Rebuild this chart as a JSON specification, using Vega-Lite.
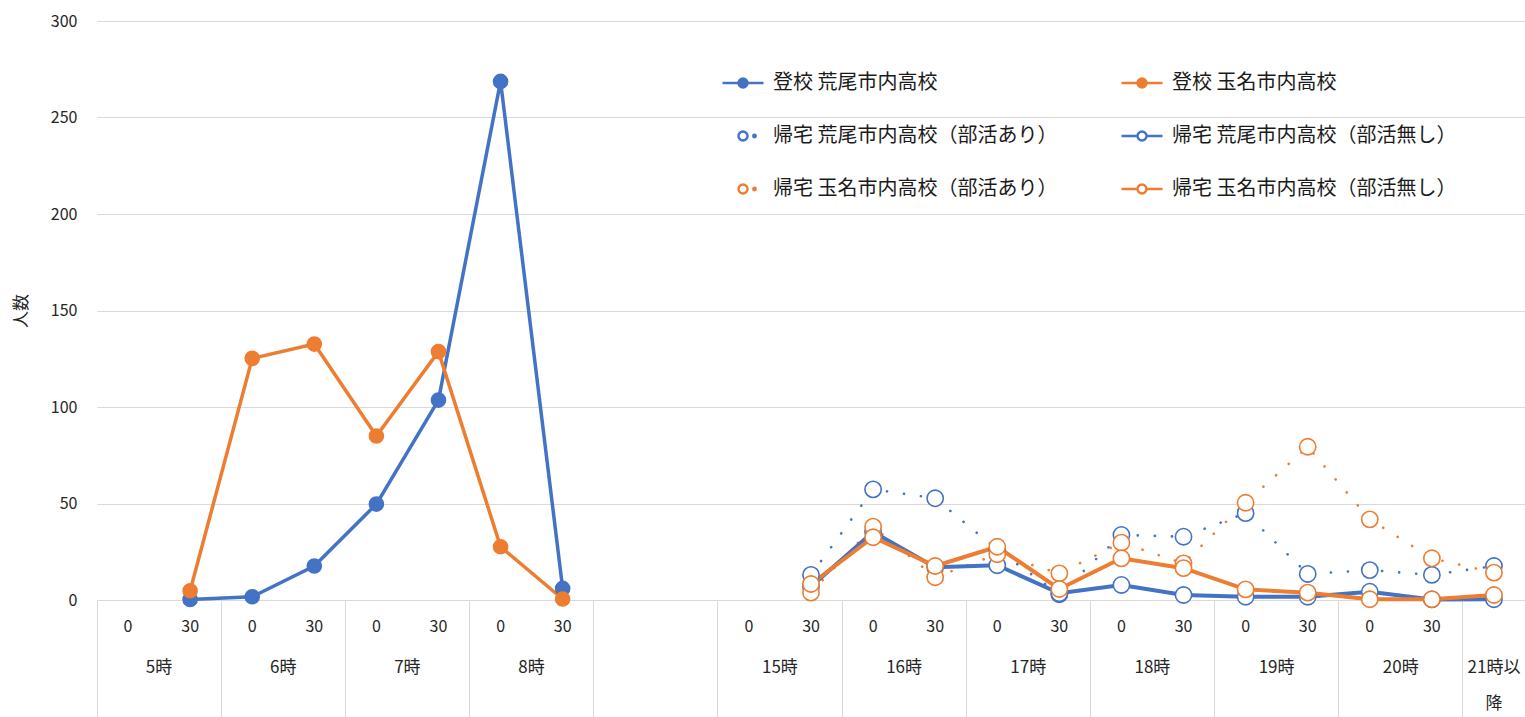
{
  "$schema": "https://vega.github.io/schema/vega-lite/v6.json",
  "width": 1428,
  "height": 579,
  "autosize": {"type": "none"},
  "padding": {"left": 97, "top": 21, "right": 0, "bottom": 117},
  "background": "white",
  "config": {
    "view": {"stroke": null},
    "font": "Noto Sans CJK JP",
    "axis": {"labelFont": "Noto Sans CJK JP", "titleFont": "Noto Sans CJK JP", "labelColor": "#262626", "titleColor": "#262626"}
  },
  "data": {
    "values": [
      {"series": "登校 荒尾市内高校", "slot": "5:30", "value": 0.3},
      {"series": "登校 荒尾市内高校", "slot": "6:00", "value": 1.7},
      {"series": "登校 荒尾市内高校", "slot": "6:30", "value": 17.6},
      {"series": "登校 荒尾市内高校", "slot": "7:00", "value": 49.7},
      {"series": "登校 荒尾市内高校", "slot": "7:30", "value": 103.6},
      {"series": "登校 荒尾市内高校", "slot": "8:00", "value": 268.7},
      {"series": "登校 荒尾市内高校", "slot": "8:30", "value": 6},
      {"series": "登校 玉名市内高校", "slot": "5:30", "value": 4.8},
      {"series": "登校 玉名市内高校", "slot": "6:00", "value": 125.2},
      {"series": "登校 玉名市内高校", "slot": "6:30", "value": 132.6},
      {"series": "登校 玉名市内高校", "slot": "7:00", "value": 85},
      {"series": "登校 玉名市内高校", "slot": "7:30", "value": 128.7},
      {"series": "登校 玉名市内高校", "slot": "8:00", "value": 27.6},
      {"series": "登校 玉名市内高校", "slot": "8:30", "value": 0.5},
      {"series": "帰宅 荒尾市内高校（部活あり）", "slot": "15:30", "value": 13},
      {"series": "帰宅 荒尾市内高校（部活あり）", "slot": "16:00", "value": 57.3},
      {"series": "帰宅 荒尾市内高校（部活あり）", "slot": "16:30", "value": 52.7},
      {"series": "帰宅 荒尾市内高校（部活あり）", "slot": "17:00", "value": 26},
      {"series": "帰宅 荒尾市内高校（部活あり）", "slot": "17:30", "value": 3},
      {"series": "帰宅 荒尾市内高校（部活あり）", "slot": "18:00", "value": 33.7},
      {"series": "帰宅 荒尾市内高校（部活あり）", "slot": "18:30", "value": 32.8},
      {"series": "帰宅 荒尾市内高校（部活あり）", "slot": "19:00", "value": 45},
      {"series": "帰宅 荒尾市内高校（部活あり）", "slot": "19:30", "value": 13.5},
      {"series": "帰宅 荒尾市内高校（部活あり）", "slot": "20:00", "value": 15.5},
      {"series": "帰宅 荒尾市内高校（部活あり）", "slot": "20:30", "value": 13},
      {"series": "帰宅 荒尾市内高校（部活あり）", "slot": "21", "value": 17.6},
      {"series": "帰宅 荒尾市内高校（部活無し）", "slot": "15:30", "value": 7},
      {"series": "帰宅 荒尾市内高校（部活無し）", "slot": "16:00", "value": 35.2},
      {"series": "帰宅 荒尾市内高校（部活無し）", "slot": "16:30", "value": 17},
      {"series": "帰宅 荒尾市内高校（部活無し）", "slot": "17:00", "value": 18},
      {"series": "帰宅 荒尾市内高校（部活無し）", "slot": "17:30", "value": 3.5},
      {"series": "帰宅 荒尾市内高校（部活無し）", "slot": "18:00", "value": 7.8},
      {"series": "帰宅 荒尾市内高校（部活無し）", "slot": "18:30", "value": 2.6},
      {"series": "帰宅 荒尾市内高校（部活無し）", "slot": "19:00", "value": 1.7},
      {"series": "帰宅 荒尾市内高校（部活無し）", "slot": "19:30", "value": 1.7},
      {"series": "帰宅 荒尾市内高校（部活無し）", "slot": "20:00", "value": 4.3},
      {"series": "帰宅 荒尾市内高校（部活無し）", "slot": "20:30", "value": 0.3},
      {"series": "帰宅 荒尾市内高校（部活無し）", "slot": "21", "value": 0.4},
      {"series": "帰宅 玉名市内高校（部活あり）", "slot": "15:30", "value": 3.8},
      {"series": "帰宅 玉名市内高校（部活あり）", "slot": "16:00", "value": 38},
      {"series": "帰宅 玉名市内高校（部活あり）", "slot": "16:30", "value": 11.8},
      {"series": "帰宅 玉名市内高校（部活あり）", "slot": "17:00", "value": 23.7},
      {"series": "帰宅 玉名市内高校（部活あり）", "slot": "17:30", "value": 13.8},
      {"series": "帰宅 玉名市内高校（部活あり）", "slot": "18:00", "value": 29.7},
      {"series": "帰宅 玉名市内高校（部活あり）", "slot": "18:30", "value": 19},
      {"series": "帰宅 玉名市内高校（部活あり）", "slot": "19:00", "value": 50.4},
      {"series": "帰宅 玉名市内高校（部活あり）", "slot": "19:30", "value": 79.4},
      {"series": "帰宅 玉名市内高校（部活あり）", "slot": "20:00", "value": 41.8},
      {"series": "帰宅 玉名市内高校（部活あり）", "slot": "20:30", "value": 21.6},
      {"series": "帰宅 玉名市内高校（部活あり）", "slot": "21", "value": 14.2},
      {"series": "帰宅 玉名市内高校（部活無し）", "slot": "15:30", "value": 8.3},
      {"series": "帰宅 玉名市内高校（部活無し）", "slot": "16:00", "value": 32.5},
      {"series": "帰宅 玉名市内高校（部活無し）", "slot": "16:30", "value": 17.6},
      {"series": "帰宅 玉名市内高校（部活無し）", "slot": "17:00", "value": 27.6},
      {"series": "帰宅 玉名市内高校（部活無し）", "slot": "17:30", "value": 5.7},
      {"series": "帰宅 玉名市内高校（部活無し）", "slot": "18:00", "value": 21.6},
      {"series": "帰宅 玉名市内高校（部活無し）", "slot": "18:30", "value": 16.5},
      {"series": "帰宅 玉名市内高校（部活無し）", "slot": "19:00", "value": 5.5},
      {"series": "帰宅 玉名市内高校（部活無し）", "slot": "19:30", "value": 3.8},
      {"series": "帰宅 玉名市内高校（部活無し）", "slot": "20:00", "value": 0.4},
      {"series": "帰宅 玉名市内高校（部活無し）", "slot": "20:30", "value": 0.4},
      {"series": "帰宅 玉名市内高校（部活無し）", "slot": "21", "value": 2.6}
    ]
  },
  "resolve": {"axis": {"x": "independent"}},
  "encoding": {
    "y": {
      "field": "value", "type": "quantitative",
      "scale": {"domain": [0, 300], "nice": false, "zero": true},
      "axis": {
        "title": "人数", "values": [0, 50, 100, 150, 200, 250, 300],
        "grid": true, "gridColor": "#d9d9d9", "gridWidth": 1,
        "domain": false, "ticks": false,
        "labelFontSize": 16, "labelPadding": 20,
        "titleFontSize": 17, "titleFontWeight": "normal", "titlePadding": 20
      }
    },
    "color": {
      "field": "series", "type": "nominal",
      "scale": {
        "domain": ["登校 荒尾市内高校", "登校 玉名市内高校", "帰宅 荒尾市内高校（部活あり）", "帰宅 荒尾市内高校（部活無し）", "帰宅 玉名市内高校（部活あり）", "帰宅 玉名市内高校（部活無し）"],
        "range": ["#4472C4", "#ED7D31", "#4472C4", "#4472C4", "#ED7D31", "#ED7D31"]
      },
      "legend": {
        "orient": "none", "legendX": 624, "legendY": 40,
        "direction": "horizontal",
        "title": null, "columns": 2, "gridAlign": "all",
        "columnPadding": 58, "rowPadding": 21, "padding": 0,
        "symbolSize": 1681, "symbolStrokeWidth": 2.4, "symbolOpacity": 1,
        "labelFont": "Noto Sans CJK JP", "labelFontSize": 20, "labelColor": "#1a1a1a", "labelOffset": 8, "labelLimit": 400
      }
    }
  },
  "layer": [
    {
      "transform": [{"filter": "indexof(datum.series, '登校') >= 0"}],
      "mark": {"type": "line", "strokeWidth": 3.5},
      "encoding": {
        "x": {
          "field": "slot", "type": "nominal", "sort": null,
          "scale": {"type": "band", "paddingInner": 0, "paddingOuter": 0,
            "domain": ["5:00","5:30","6:00","6:30","7:00","7:30","8:00","8:30","g1","g2","15:00","15:30","16:00","16:30","17:00","17:30","18:00","18:30","19:00","19:30","20:00","20:30","21"]},
          "axis": {
            "orient": "bottom", "title": null, "labelAngle": 0,
            "domain": true, "domainColor": "#d9d9d9", "domainWidth": 1,
            "ticks": false, "grid": false,
            "labelFontSize": 16, "labelPadding": 18,
            "labelExpr": "indexof(datum.value, ':00') > 0 ? '0' : (indexof(datum.value, ':30') > 0 ? '30' : '')"
          }
        }
      }
    },
    {
      "transform": [{"filter": "indexof(datum.series, '登校') >= 0"}],
      "mark": {"type": "point", "filled": false, "size": 200, "strokeWidth": 1.5, "opacity": 1, "fillOpacity": 1},
      "encoding": {
        "x": {
          "field": "slot", "type": "nominal", "sort": null,
          "axis": {
            "orient": "bottom", "title": null, "labels": false,
            "domain": false, "grid": false,
            "ticks": true, "tickSize": 117, "tickColor": "#d9d9d9", "tickWidth": 1, "bandPosition": 0,
            "values": ["5:00","6:00","7:00","8:00","g1","15:00","16:00","17:00","18:00","19:00","20:00","21"]
          }
        },
        "fill": {
          "field": "series", "type": "nominal",
          "scale": {
            "domain": ["登校 荒尾市内高校", "登校 玉名市内高校", "帰宅 荒尾市内高校（部活あり）", "帰宅 荒尾市内高校（部活無し）", "帰宅 玉名市内高校（部活あり）", "帰宅 玉名市内高校（部活無し）"],
            "range": ["#4472C4", "#ED7D31", "#ffffff", "#ffffff", "#ffffff", "#ffffff"]
          }
        }
      }
    },
    {
      "transform": [{"filter": "indexof(datum.series, 'あり') >= 0"}],
      "mark": {"type": "line", "strokeWidth": 2.6, "strokeCap": "round", "strokeDash": [0.1, 17]},
      "encoding": {
        "x": {
          "field": "slot", "type": "nominal", "sort": null,
          "axis": {
            "orient": "bottom", "title": null, "labelAngle": 0,
            "domain": false, "grid": false, "ticks": false,
            "labelFontSize": 17, "labelPadding": 59, "labelOffset": 31,
            "values": ["5:00","6:00","7:00","8:00","15:00","16:00","17:00","18:00","19:00","20:00"],
            "labelExpr": "split(datum.value, ':')[0] + '時'"
          }
        }
      }
    },
    {
      "transform": [{"filter": "indexof(datum.series, '無し') >= 0"}],
      "mark": {"type": "line", "strokeWidth": 4},
      "encoding": {
        "x": {
          "field": "slot", "type": "nominal", "sort": null,
          "axis": {
            "orient": "bottom", "title": null, "labelAngle": 0,
            "domain": false, "grid": false, "ticks": false,
            "labelFontSize": 17, "labelPadding": 59, "labelLineHeight": 36,
            "values": ["21"],
            "labelExpr": "['21時以', '降']"
          }
        }
      }
    },
    {
      "transform": [{"filter": "indexof(datum.series, '帰宅') >= 0"}],
      "mark": {"type": "point", "filled": false, "fillOpacity": 1, "size": 265, "strokeWidth": 1.6, "opacity": 1},
      "encoding": {
        "x": {"field": "slot", "type": "nominal", "sort": null, "axis": null},
        "fill": {"field": "series", "type": "nominal"}
      }
    },
    {
      "mark": {"type": "point", "filled": false, "opacity": 0},
      "encoding": {
        "x": {"field": "slot", "type": "nominal", "sort": null, "axis": null},
        "fill": {"field": "series", "type": "nominal"},
        "shape": {
          "field": "series", "type": "nominal",
          "scale": {
            "domain": ["登校 荒尾市内高校", "登校 玉名市内高校", "帰宅 荒尾市内高校（部活あり）", "帰宅 荒尾市内高校（部活無し）", "帰宅 玉名市内高校（部活あり）", "帰宅 玉名市内高校（部活無し）"],
            "range": [
              "M-1,0L-0.22,0M0.22,0L1,0M-0.22,0A0.22,0.22,0,1,0,0.22,0A0.22,0.22,0,1,0,-0.22,0Z",
              "M-1,0L-0.22,0M0.22,0L1,0M-0.22,0A0.22,0.22,0,1,0,0.22,0A0.22,0.22,0,1,0,-0.22,0Z",
              "M-0.22,0A0.22,0.22,0,1,0,0.22,0A0.22,0.22,0,1,0,-0.22,0ZM0.5,0A0.06,0.06,0,1,0,0.62,0A0.06,0.06,0,1,0,0.5,0Z",
              "M-1,0L-0.22,0M0.22,0L1,0M-0.22,0A0.22,0.22,0,1,0,0.22,0A0.22,0.22,0,1,0,-0.22,0Z",
              "M-0.22,0A0.22,0.22,0,1,0,0.22,0A0.22,0.22,0,1,0,-0.22,0ZM0.5,0A0.06,0.06,0,1,0,0.62,0A0.06,0.06,0,1,0,0.5,0Z",
              "M-1,0L-0.22,0M0.22,0L1,0M-0.22,0A0.22,0.22,0,1,0,0.22,0A0.22,0.22,0,1,0,-0.22,0Z"
            ]
          }
        }
      }
    }
  ]
}
